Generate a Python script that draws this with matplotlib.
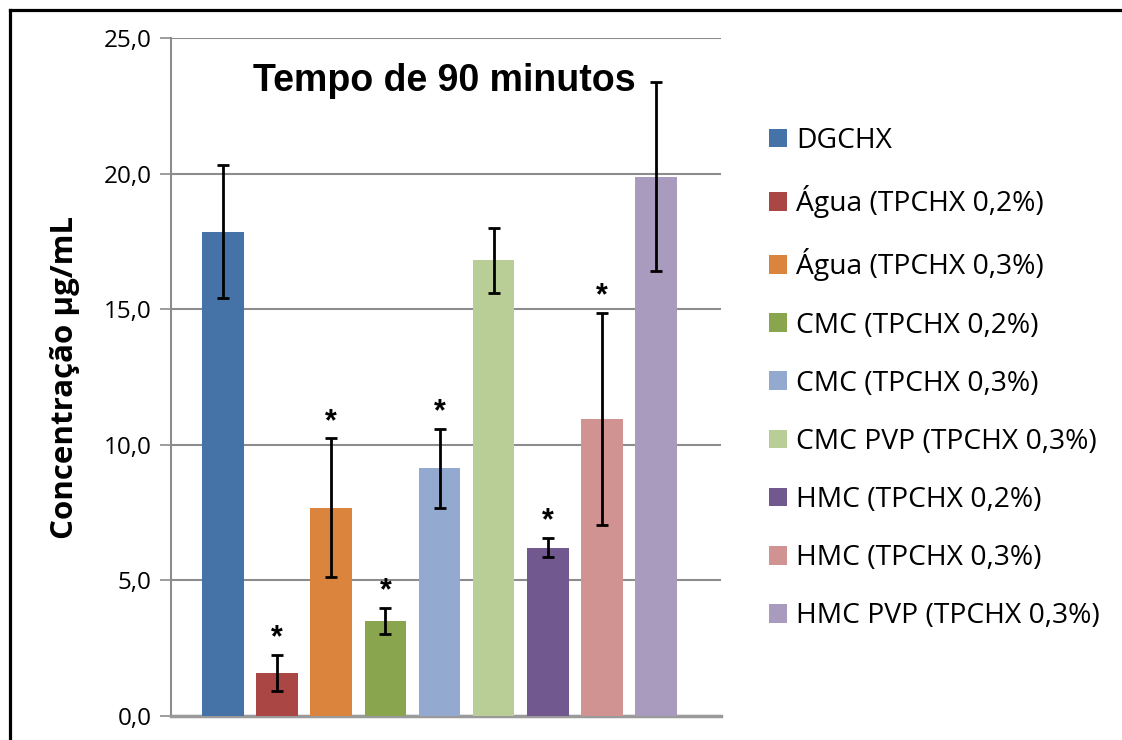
import matplotlib
matplotlib.use("Agg")
import matplotlib.pyplot as plt
from matplotlib.lines import Line2D
from matplotlib.patches import Patch

# Release of chlorhexidine after 90 minutes, by formulation
groups = [
    "DGCHX",
    "Água (TPCHX 0,2%)",
    "Água (TPCHX 0,3%)",
    "CMC (TPCHX 0,2%)",
    "CMC (TPCHX 0,3%)",
    "CMC PVP (TPCHX 0,3%)",
    "HMC (TPCHX 0,2%)",
    "HMC (TPCHX 0,3%)",
    "HMC PVP (TPCHX 0,3%)",
]
means = [17.86, 1.60, 7.68, 3.50, 9.13, 16.81, 6.21, 10.95, 19.89]
errors = [2.46, 0.66, 2.56, 0.49, 1.46, 1.20, 0.36, 3.91, 3.49]
significant = [False, True, True, True, True, False, True, True, False]
colors = ["#4572A7", "#AA4643", "#DB843D", "#89A54E", "#93A9CF",
          "#B9CD96", "#71588F", "#D19392", "#A99BBD"]
yticks = [0, 5, 10, 15, 20, 25]

plt.rcParams["font.family"] = ["Open Sans", "DejaVu Sans"]

fig = plt.figure(figsize=(11.22, 7.4), dpi=100)
ax = fig.add_axes([171 / 1122, 1 - 716 / 740, 550 / 1122, 678 / 740])

x = list(range(len(groups)))
ax.bar(x, means, width=0.77, color=colors, zorder=3)
ax.errorbar(x, means, yerr=errors, fmt="none", ecolor="black",
            elinewidth=2, capsize=4.5, capthick=2, zorder=4)

for xi, m, e, s in zip(x, means, errors, significant):
    if s:
        ax.annotate("*", (xi, m + e), xytext=(0, 1), textcoords="offset points",
                    ha="center", va="bottom", fontsize=22, fontweight="bold",
                    family="Liberation Sans", zorder=5)

ax.set_xlim(-0.96, 9.2)
ax.set_ylim(0, 25)
ax.set_yticks(yticks)
ax.set_yticklabels([f"{v:.1f}".replace(".", ",") for v in yticks], fontsize=17.5)
ax.set_xticks([])
ax.yaxis.grid(True, color="#8c8c8c", linewidth=1.5, zorder=0)
ax.tick_params(axis="y", direction="out", length=8, width=1.2, color="#8c8c8c", pad=6)

for side in ("top", "right"):
    ax.spines[side].set_visible(False)
ax.spines["left"].set_color("#8c8c8c")
ax.spines["left"].set_linewidth(1.5)
ax.spines["bottom"].set_color("#9a9a9a")
ax.spines["bottom"].set_linewidth(2.5)

ax.set_ylabel("Concentração µg/mL", fontsize=22.5, fontweight="bold", labelpad=17)

ax.text(0.497, 0.936, "Tempo de 90 minutos", transform=ax.transAxes,
        ha="center", va="center", fontsize=27, fontweight="bold",
        family="Liberation Sans")

handles = [Patch(facecolor=c, edgecolor="none") for c in colors]
fig.legend(handles, groups, loc="upper left", bbox_to_anchor=(769 / 1122, 1 - 127 / 740),
           frameon=False, fontsize=20.3, handlelength=0.64, handleheight=0.64,
           handletextpad=0.32, labelspacing=1.07, borderaxespad=0, borderpad=0)

# Outer frame (left and top edges)
fig.add_artist(Line2D([9.5 / 1122, 9.5 / 1122], [0, 1 - 9.5 / 740],
                      transform=fig.transFigure, color="black", linewidth=2.3))
fig.add_artist(Line2D([9.5 / 1122, 1], [1 - 9.5 / 740, 1 - 9.5 / 740],
                      transform=fig.transFigure, color="black", linewidth=2.3))

fig.savefig("out.png", dpi=100)
